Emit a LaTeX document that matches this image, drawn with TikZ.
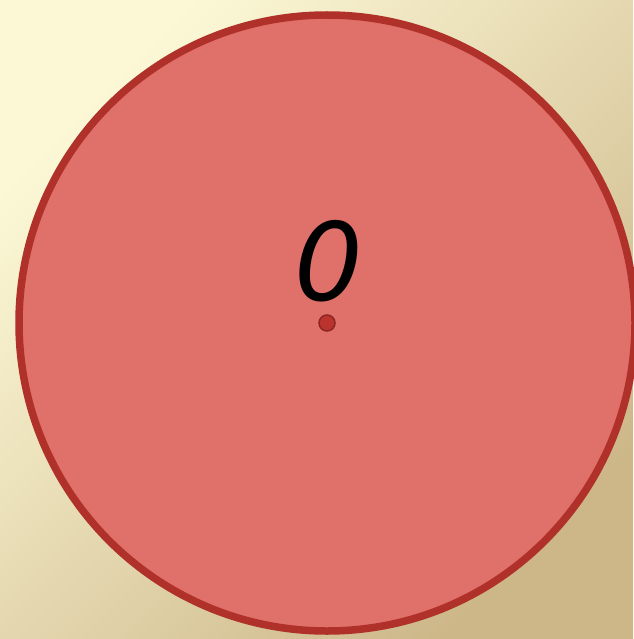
\documentclass[tikz,border=0pt]{standalone}
\usepackage{fontspec}
\newfontfamily\labelfont{DejaVu Sans}
\definecolor{bgA}{HTML}{FCF8D6}
\definecolor{bgB}{HTML}{CDB789}
\definecolor{circfill}{HTML}{E0706A}
\definecolor{circdraw}{HTML}{B0302A}
\definecolor{dotfill}{HTML}{BA342D}
\definecolor{dotdraw}{HTML}{8E2520}
\begin{document}
\begin{tikzpicture}[x=1pt,y=-1pt,
  bigcircle/.style={circle,fill=circfill,draw=circdraw,line width=7.5pt,minimum size=616pt,inner sep=0pt},
  centerdot/.style={circle,fill=dotfill,draw=dotdraw,line width=1.5pt,minimum size=16pt,inner sep=0pt},
  label/.style={font=\labelfont\itshape\fontsize{108}{108}\selectfont,inner sep=0pt}]
\useasboundingbox (0,0) rectangle (633,639);
\shade[top color=bgA,bottom color=bgB,shading angle=45] (0,0) rectangle (633,639);
\node[bigcircle] (c) at (327,323) {};
\node[centerdot] (o) at (327,323) {};
\node[label] (t) at (328.5,261) {0};
\end{tikzpicture}
\end{document}
